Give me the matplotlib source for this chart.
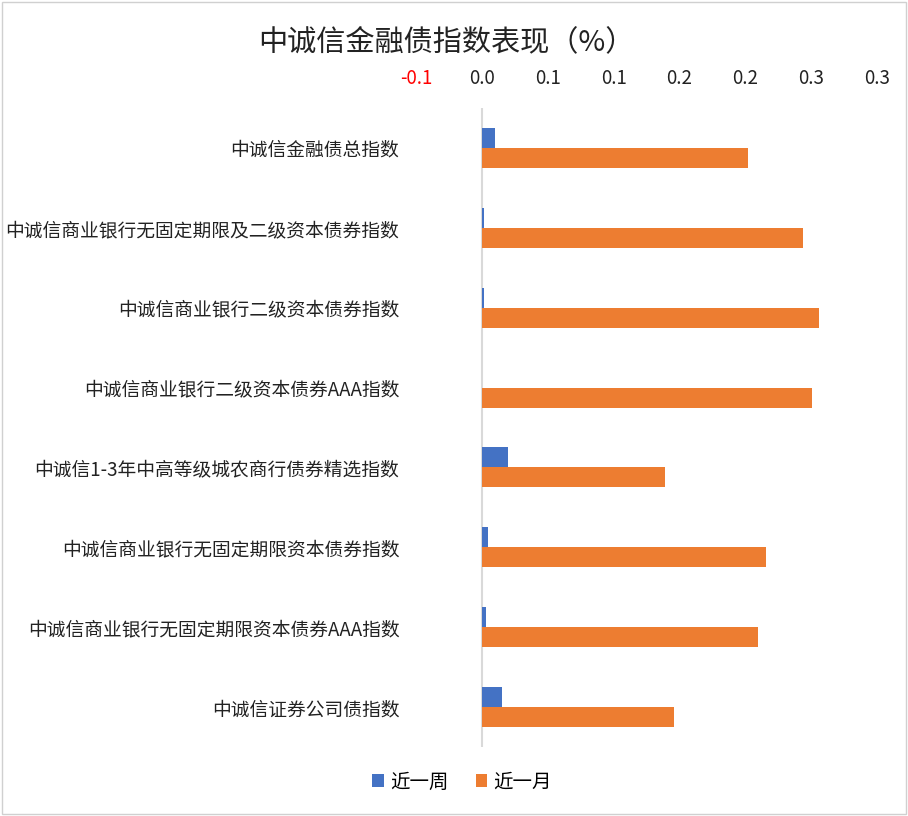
import matplotlib
matplotlib.use('Agg')
import matplotlib.pyplot as plt
import numpy as np
from decimal import Decimal, ROUND_HALF_UP
from matplotlib.patches import Rectangle
from matplotlib.ticker import FuncFormatter

plt.rcParams['font.family'] = ['Noto Sans CJK SC', 'DejaVu Sans']

categories = ['中诚信金融债总指数',
              '中诚信商业银行无固定期限及二级资本债券指数',
              '中诚信商业银行二级资本债券指数',
              '中诚信商业银行二级资本债券AAA指数',
              '中诚信1-3年中高等级城农商行债券精选指数',
              '中诚信商业银行无固定期限资本债券指数',
              '中诚信商业银行无固定期限资本债券AAA指数',
              '中诚信证券公司债指数']
week = [0.010, 0.002, 0.002, 0.000, 0.020, 0.005, 0.003, 0.015]
month = [0.202, 0.244, 0.256, 0.251, 0.139, 0.216, 0.210, 0.146]
xticks = [-0.05, 0.0, 0.05, 0.10, 0.15, 0.20, 0.25, 0.30]

BLUE = '#4472C4'
ORANGE = '#ED7D31'


def fmt(v, pos=None):
    # excel-style rounding, half away from zero
    d = Decimal(str(round(v, 4))).quantize(Decimal('0.1'), rounding=ROUND_HALF_UP)
    return f'{d:.1f}'


fig = plt.figure(figsize=(9.08, 8.16), dpi=100)
ax = fig.add_axes([416 / 908, 1 - 747 / 816, (877 - 416) / 908, (747 - 108) / 816])

y = np.arange(len(categories))
h = 0.25
ax.barh(y - h / 2, week, height=h, color=BLUE, label='近一周', zorder=3)
ax.barh(y + h / 2, month, height=h, color=ORANGE, label='近一月', zorder=3)

ax.set_xlim(-0.05, 0.30)
ax.set_ylim(len(categories) - 0.5, -0.5)
ax.axvline(0, color='#d9d9d9', lw=1.5, zorder=2)

ax.xaxis.tick_top()
ax.set_xticks(xticks)
ax.xaxis.set_major_formatter(FuncFormatter(fmt))
ax.tick_params(axis='x', length=0, labelsize=13.5, pad=14, labelcolor='#222222')
for lbl, v in zip(ax.get_xticklabels(), xticks):
    if v < 0:
        lbl.set_color('#FF0000')

ax.set_yticks(y)
ax.set_yticklabels(categories)
ax.tick_params(axis='y', length=0, labelsize=13.5, pad=12, labelcolor='#222222')

for s in ax.spines.values():
    s.set_visible(False)

fig.text(446 / 908, 1 - 42 / 816, '中诚信金融债指数表现（%）', ha='center', va='center',
         fontsize=21, color='#222222')

fig.legend(loc='center', bbox_to_anchor=(462 / 908, 1 - 782 / 816), ncol=2, frameon=False,
           fontsize=14, handlelength=0.6, handleheight=0.6, handletextpad=0.3,
           columnspacing=1.4)

fig.patches.append(Rectangle((0.002, 0.002), 0.996, 0.996, transform=fig.transFigure,
                             fill=False, ec='#d0d0d0', lw=1))

fig.savefig('out.png', dpi=100)
